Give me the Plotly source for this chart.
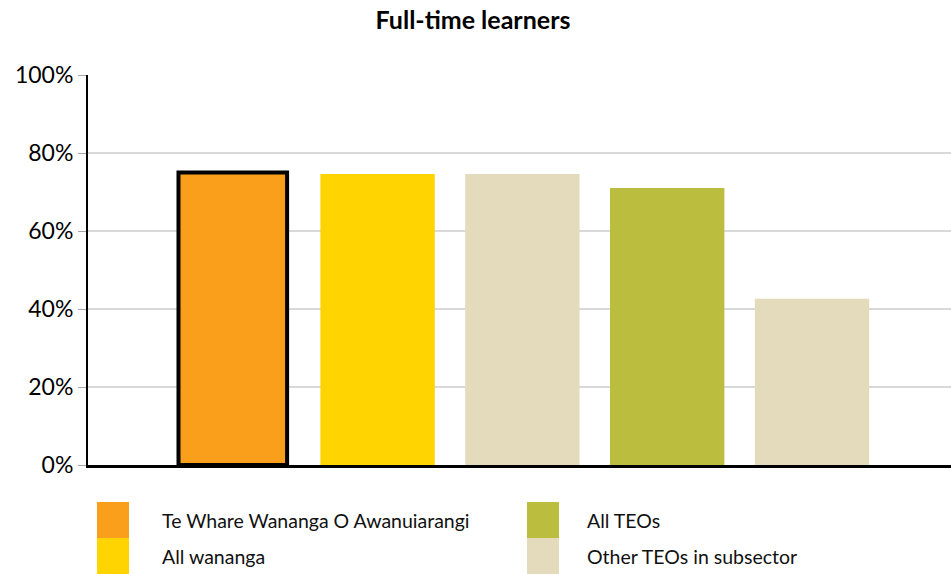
import plotly.graph_objects as go

# ---- data ----
categories = ["Te Whare Wananga O Awanuiarangi", "All wananga", "Other TEOs in subsector (wananga)",
              "All TEOs", "Other TEOs in subsector"]
values = [75.0, 74.6, 74.6, 71.0, 42.6]
bar_colors = ["#F99F1B", "#FFD400", "#E3DBBC", "#BBBD3E", "#E3DBBC"]
outline_widths = [4, 0, 0, 0, 0]
bar_widths = [0.75, 0.79, 0.79, 0.79, 0.79]

legend_names = ["Te Whare Wananga O Awanuiarangi", "All wananga", "All TEOs", "Other TEOs in subsector"]
legend_colors = ["#F99F1B", "#FFD400", "#BBBD3E", "#E3DBBC"]

y_ticks = [0, 20, 40, 60, 80, 100]
y_tick_labels = ["0%", "20%", "40%", "60%", "80%", "100%"]

FONT = "Lato, 'Open Sans', sans-serif"

W, H = 951, 574
L, R, T, B = 88, 0, 75, 109
pw, ph = W - L - R, H - T - B

fig = go.Figure()
fig.add_trace(go.Bar(
    x=categories, y=values,
    marker=dict(color=bar_colors, line=dict(color="#000000", width=outline_widths)),
    width=bar_widths, showlegend=False, hoverinfo="x+y",
))

# custom legend (large swatches, two columns)
shapes = []
annotations = []
col_x = [97, 527]
text_x = [160, 585]
row_y = [502, 538]
sw_w, sw_h = 32, 36
for i, (name, col) in enumerate(zip(legend_names, legend_colors)):
    c, r = i // 2, i % 2
    x0 = (col_x[c] - L) / pw
    x1 = (col_x[c] + sw_w - L) / pw
    y0 = (H - B - row_y[r]) / ph
    y1 = (H - B - row_y[r] - sw_h) / ph
    shapes.append(dict(type="rect", xref="paper", yref="paper", x0=x0, x1=x1, y0=y1, y1=y0,
                       fillcolor=col, line=dict(width=0), layer="above"))
    annotations.append(dict(xref="paper", yref="paper", x=(text_x[c] - L) / pw,
                            y=(y0 + y1) / 2, text=name, showarrow=False, xanchor="left",
                            yanchor="middle", font=dict(family=FONT, size=19.5, color="#111111")))

fig.update_layout(
    width=W, height=H,
    margin=dict(l=L, r=R, t=T, b=B),
    paper_bgcolor="white", plot_bgcolor="white",
    title=dict(text="<b>Full-time learners</b>", x=473 / W, xanchor="center",
               y=1 - 20 / H, yanchor="middle",
               font=dict(family=FONT, size=25, color="#000000")),
    xaxis=dict(type="category", range=[-1, 4.96], showticklabels=False, ticks="",
               showgrid=False, showline=True, linecolor="#000000", linewidth=3,
               zeroline=False, fixedrange=True),
    yaxis=dict(range=[0, 100], tickmode="array", tickvals=y_ticks, ticktext=y_tick_labels,
               showgrid=True, gridcolor="#D9D9D9", gridwidth=2,
               showline=True, linecolor="#000000", linewidth=2,
               ticks="outside", ticklen=8, tickcolor="#A6A6A6", tickwidth=1,
               tickfont=dict(family=FONT, size=23, color="#000000"),
               zeroline=False, fixedrange=True),
    shapes=shapes, annotations=annotations,
)

fig.write_html("out.html", config={"displayModeBar": False},
               post_script="document.body.style.margin='0';")
